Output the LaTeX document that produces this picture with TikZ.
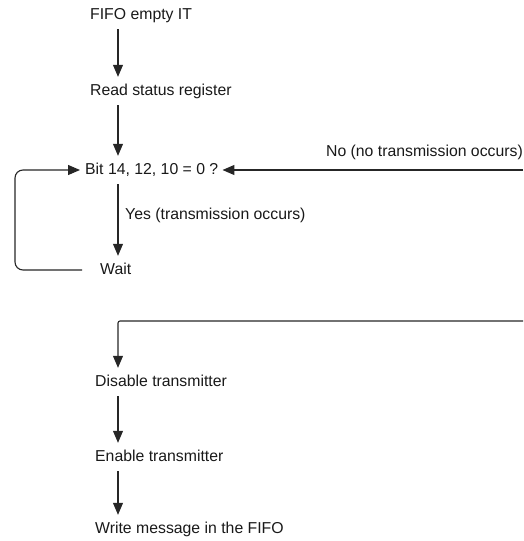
\documentclass[tikz,border=0pt]{standalone}
\usepackage{fontspec}
\setmainfont{Liberation Sans}
\usetikzlibrary{arrows.meta}
\begin{document}
\begin{tikzpicture}[x=1pt,y=-1pt,
  lbl/.style={anchor=west, inner xsep=0pt, inner ysep=7pt, text height=11pt, text depth=3pt,
    font=\fontsize{15.8}{18}\selectfont, text=black!90},
  edgelbl/.style={inner sep=0pt, font=\fontsize{15.8}{18}\selectfont, text=black!90},
  flow/.style={line width=1.1pt, draw=black!85, -{Triangle[length=12pt,width=10pt]}}]
\useasboundingbox (0,0) rectangle (523,541);
\coordinate (ax) at (118,0);
\coordinate (loopx) at (15,0);
\node[lbl] (fifo) at (90,15) {FIFO empty IT};
\node[lbl] (read) at (90,91) {Read status register};
\node[lbl] (bit) at (85,170) {Bit 14, 12, 10 = 0 ?};
\node[lbl] (wait) at (100,270) {Wait};
\node[lbl] (dis) at (95,382) {Disable transmitter};
\node[lbl] (en) at (95,457) {Enable transmitter};
\node[lbl] (wr) at (95,529) {Write message in the FIFO};
\node[edgelbl, anchor=east] (nolbl) at (523,152) {No (no transmission occurs)};
\node[edgelbl, anchor=west] (yeslbl) at (125,215) {Yes (transmission occurs)};
\coordinate (noin) at (523,170);
\coordinate (back) at (523,321);

\draw[flow] (ax |- fifo.south) -- (ax |- read.north);
\draw[flow] (ax |- read.south) -- (ax |- bit.north);
\draw[flow] (ax |- bit.south) -- (ax |- wait.north);
\draw[flow] (noin) -- ([xshift=4pt]bit.east);
\draw[flow, rounded corners=8pt] ([xshift=-18pt]wait.west) -- (loopx |- wait.west) -- (loopx |- bit.west) -- ([xshift=-5pt]bit.west);
\draw[flow, rounded corners=2pt] (back) -- (ax |- back) -- (ax |- dis.north);
\draw[flow] (ax |- dis.south) -- (ax |- en.north);
\draw[flow] (ax |- en.south) -- (ax |- wr.north);
\end{tikzpicture}
\end{document}
